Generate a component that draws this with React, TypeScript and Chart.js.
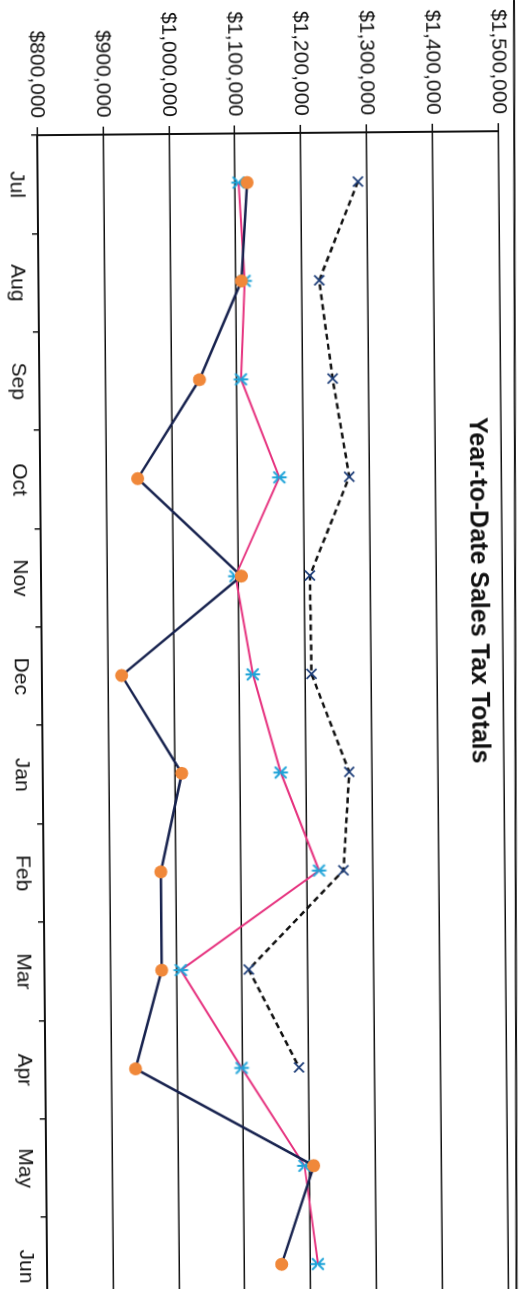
import React, { useEffect, useRef } from 'react';
import { Chart, registerables } from 'chart.js';

Chart.register(...registerables);

// ---- data ----
const months = ['Jul', 'Aug', 'Sep', 'Oct', 'Nov', 'Dec', 'Jan', 'Feb', 'Mar', 'Apr', 'May', 'Jun'];
const valueMin = 800000;
const valueMax = 1500000;
const valueStep = 100000;
const seriesNavy = [1118000, 1108000, 1043000, 948000, 1104000, 921000, 1011000, 978000, 978000, 937000, 1206000, 1156000];
const seriesPink = [1105000, 1113000, 1106000, 1163000, 1095000, 1120000, 1161000, 1218000, 1007000, 1098000, 1192000, 1211000];
const seriesDashed = [1286000, 1226000, 1245000, 1269000, 1208000, 1209000, 1265000, 1255000, 1110000, 1185000, null, null];
const chartTitle = 'Year-to-Date Sales Tax Totals';

// canvas is drawn landscape and turned a quarter turn, like the scanned page
const CW = 1330;
const CH = 519;
const FONT = '"Liberation Sans", Arial, Helvetica, sans-serif';

function starMarker(color: string): HTMLCanvasElement {
  const s = 18;
  const c = document.createElement('canvas');
  c.width = s;
  c.height = s;
  const ctx = c.getContext('2d')!;
  ctx.strokeStyle = color;
  ctx.lineWidth = 2;
  ctx.lineCap = 'round';
  const m = s / 2;
  const r = 6.5;
  const d = r * 0.8;
  ctx.beginPath();
  ctx.moveTo(m - d, m - d);
  ctx.lineTo(m + d, m + d);
  ctx.moveTo(m + d, m - d);
  ctx.lineTo(m - d, m + d);
  ctx.moveTo(m, m - r);
  ctx.lineTo(m, m + r);
  ctx.stroke();
  return c;
}

const overlayPlugin = {
  id: 'overlay',
  afterDraw(chart: any) {
    const ctx = chart.ctx as CanvasRenderingContext2D;
    ctx.save();
    ctx.strokeStyle = '#111';
    ctx.lineWidth = 2;
    ctx.beginPath();
    ctx.moveTo(0, 5);
    ctx.lineTo(CW, 14);
    ctx.stroke();
    ctx.fillStyle = '#111';
    ctx.font = `bold 25px ${FONT}`;
    ctx.textAlign = 'center';
    ctx.textBaseline = 'middle';
    ctx.fillText(chartTitle, 590, 46);
    ctx.restore();
  },
};

export default function App() {
  const ref = useRef<HTMLCanvasElement | null>(null);

  useEffect(() => {
    if (!ref.current) return;
    const star = starMarker('#1ea3d8');
    const chart = new Chart(ref.current, {
      type: 'line',
      data: {
        labels: months,
        datasets: [
          {
            label: 'Series 1',
            data: seriesNavy,
            borderColor: '#18234f',
            borderWidth: 2.5,
            pointStyle: 'circle',
            pointRadius: 6.5,
            pointBackgroundColor: '#f0883a',
            pointBorderColor: '#f0883a',
            pointBorderWidth: 0,
            tension: 0,
            fill: false,
          },
          {
            label: 'Series 2',
            data: seriesPink,
            borderColor: '#e6337f',
            borderWidth: 2,
            pointStyle: star as any,
            pointRadius: 7,
            tension: 0,
            fill: false,
          },
          {
            label: 'Series 3',
            data: seriesDashed,
            borderColor: '#111',
            borderWidth: 2.5,
            borderDash: [6, 4],
            pointStyle: 'crossRot',
            pointRadius: 7,
            pointBorderColor: '#1f3f7a',
            pointBackgroundColor: '#1f3f7a',
            pointBorderWidth: 1.8,
            tension: 0,
            fill: false,
            spanGaps: false,
          },
        ],
      },
      options: {
        animation: false,
        responsive: false,
        events: [],
        layout: { padding: { left: 0, top: 21.6, right: CW - 1311.4, bottom: 0 } },
        plugins: {
          legend: { display: false },
          tooltip: { enabled: false },
          title: { display: false },
        },
        scales: {
          x: {
            type: 'category',
            offset: true,
            grid: {
              offset: true,
              drawOnChartArea: false,
              drawTicks: true,
              tickLength: 6,
              color: '#111',
              lineWidth: 1.5,
            },
            border: { display: true, color: '#111', width: 2 },
            ticks: {
              color: '#111',
              padding: 3,
              maxRotation: 0,
              autoSkip: false,
              font: { family: FONT, size: 21 },
            },
            afterFit: (s: any) => {
              s.height = 36;
            },
          },
          y: {
            min: valueMin,
            max: valueMax,
            grid: {
              color: '#111',
              lineWidth: 1.5,
              drawTicks: true,
              tickLength: 8,
            },
            border: { display: true, color: '#111', width: 2 },
            ticks: {
              stepSize: valueStep,
              color: '#111',
              padding: 9,
              font: { family: FONT, size: 21 },
              callback: (v: any) => '$' + Number(v).toLocaleString('en-US'),
            },
            afterFit: (s: any) => {
              s.width = 131;
            },
          },
        },
      },
      plugins: [overlayPlugin],
    });
    return () => chart.destroy();
  }, []);

  return (
    <div
      style={{
        position: 'fixed',
        left: 0,
        top: 0,
        width: 519,
        height: 1289,
        overflow: 'hidden',
        background: '#fff',
      }}
    >
      <div
        style={{
          position: 'absolute',
          left: 0,
          top: 0,
          width: CW,
          height: CH,
          transformOrigin: '0 0',
          transform: 'translate(519px, 0px) rotate(89.5deg)',
        }}
      >
        <canvas ref={ref} width={CW} height={CH} style={{ display: 'block', width: CW, height: CH }} />
      </div>
    </div>
  );
}
